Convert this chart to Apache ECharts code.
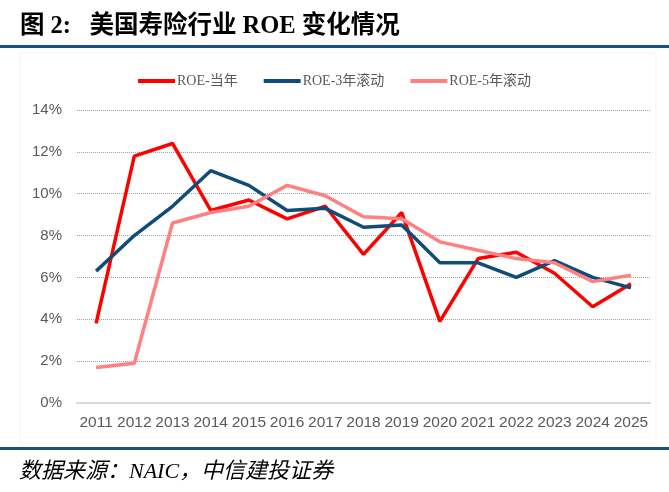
<!DOCTYPE html>
<html>
<head>
<meta charset="utf-8">
<script src="https://cdn.jsdelivr.net/npm/echarts@6/dist/echarts.min.js"></script>
<style>
  html, body { margin: 0; padding: 0; background: #fff; }
  #chart { width: 669px; height: 492px; }
</style>
</head>
<body>
<div id="chart"></div>
<script>
// 年份
const years = ['2011', '2012', '2013', '2014', '2015', '2016', '2017', '2018', '2019', '2020', '2021', '2022', '2023', '2024', '2025']
// ROE-当年 (%)
const roeYear = [3.8, 11.8, 12.4, 9.2, 9.7, 8.8, 9.4, 7.1, 9.1, 3.9, 6.9, 7.2, 6.2, 4.6, 5.7]
// ROE-3年滚动 (%)
const roe3y = [6.3, 8.0, 9.4, 11.1, 10.4, 9.2, 9.3, 8.4, 8.5, 6.7, 6.7, 6.0, 6.8, 6.0, 5.5]
// ROE-5年滚动 (%)
const roe5y = [1.7, 1.9, 8.6, 9.1, 9.4, 10.4, 9.9, 8.9, 8.8, 7.7, 7.3, 6.9, 6.7, 5.8, 6.1]
// y轴刻度
const yTicks = [0, 2, 4, 6, 8, 10, 12, 14]

;(function () {
  let myChart = echarts.init(document.querySelector('#chart'))
  let lineSeries = function (name, data, color) {
    return {
      name: name,
      type: 'line',
      data: data,
      symbol: 'none',
      smooth: false,
      lineStyle: { color: color, width: 3.5 },
      itemStyle: { color: color }
    }
  }
  let option = {
    animation: false,
    backgroundColor: '#fff',
    title: [{
      text: '图 2:   美国寿险行业 ROE 变化情况',
      left: 15,
      top: 9,
      textStyle: {
        fontFamily: '"Liberation Serif", "Noto Sans CJK SC"',
        fontSize: 24.5,
        fontWeight: 'bold',
        color: '#000'
      }
    }, {
      text: '数据来源：NAIC，中信建投证券',
      left: 14,
      top: 456,
      textStyle: {
        fontFamily: '"Liberation Serif", "Noto Sans CJK SC"',
        fontSize: 22,
        fontStyle: 'italic',
        fontWeight: 'normal',
        color: '#000'
      }
    }],
    graphic: [
      // 上下两条深蓝分隔线
      { type: 'rect', shape: { x: 0, y: 45, width: 669, height: 3 }, style: { fill: '#1b4f7c' } },
      { type: 'rect', shape: { x: 0, y: 447, width: 669, height: 3 }, style: { fill: '#1b4f7c' } },
      // 图表区淡边框
      { type: 'rect', shape: { x: 20, y: 53, width: 636, height: 390 }, style: { fill: 'none', stroke: '#f2f2f2', lineWidth: 1 } }
    ],
    legend: {
      top: 69,
      left: 'center',
      itemWidth: 37,
      itemHeight: 4,
      itemGap: 26,
      icon: 'rect',
      textStyle: {
        fontFamily: '"Liberation Serif", "Noto Sans CJK SC"',
        fontSize: 14,
        color: '#595959',
        padding: [0, 0, 0, -3]
      },
      data: ['ROE-当年', 'ROE-3年滚动', 'ROE-5年滚动']
    },
    grid: {
      left: 77,
      right: 19,
      top: 110,
      bottom: 89
    },
    xAxis: {
      type: 'category',
      data: years,
      boundaryGap: true,
      axisTick: { show: false },
      axisLine: { show: true, lineStyle: { color: '#d9d9d9', width: 2 } },
      axisLabel: {
        color: '#595959',
        fontFamily: '"Liberation Sans", Arial',
        fontSize: 15.5,
        margin: 12,
        interval: 0
      }
    },
    yAxis: {
      type: 'value',
      min: yTicks[0],
      max: yTicks[yTicks.length - 1],
      interval: 2,
      axisLine: { show: false },
      axisTick: { show: false },
      axisLabel: {
        color: '#595959',
        fontFamily: '"Liberation Sans", Arial',
        fontSize: 15,
        margin: 15,
        formatter: '{value}%'
      },
      splitLine: {
        show: true,
        lineStyle: { color: '#a0a0a0', width: 1, type: 'dotted' }
      }
    },
    series: [
      lineSeries('ROE-当年', roeYear, '#ff0000'),
      lineSeries('ROE-3年滚动', roe3y, '#0f4c78'),
      lineSeries('ROE-5年滚动', roe5y, '#ff8080')
    ]
  }
  myChart.setOption(option)
})()
</script>
</body>
</html>
